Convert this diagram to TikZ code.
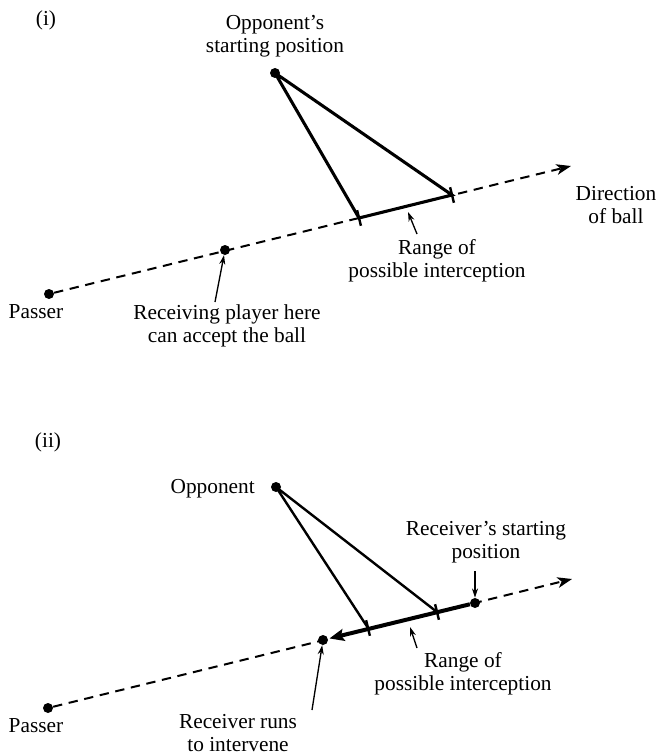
\documentclass[tikz,border=0pt]{standalone}
\usepackage{fontspec}
\setmainfont{Liberation Serif}
\usetikzlibrary{calc,arrows.meta}

\begin{document}
\begin{tikzpicture}[
    x=0.75pt, y=-0.75pt,               % one unit = one pixel of the reference
    font=\fontsize{16}{17.25}\selectfont,
    dot/.style={circle, fill, inner sep=0pt, minimum size=7.5pt},
    lbl/.style={align=center, inner sep=0pt},
    ball/.style={dash pattern=on 7pt off 5pt, line width=1.5pt,
        -{Stealth[length=11pt,width=8pt,inset=3pt]}},
    reach/.style={line width=2.3pt},   % opponent lines in (i)
    reachthin/.style={line width=1.8pt},
    pointer/.style={line width=1pt, -{Stealth[length=7pt,width=4.5pt]}},
    tick/.style={line width=1.8pt}
]
\useasboundingbox (0,0) rectangle (661,756);

% ---------- (i) ----------
\node[lbl] (numi) at (46,20) {(i)};
\node[dot] (passA) at (49,294) {};
\node[dot] (recvA) at (225,250) {};
\node[dot] (oppA) at (275,73) {};
\coordinate (endA) at (571,166);
\coordinate (tAa) at (359,218);
\coordinate (tAb) at (452,195);

\node[lbl] (passAlbl) at (36,312) {Passer};
\node[lbl] (oppAlbl) at (275,36) {Opponent’s\\starting position};
\node[lbl] (recvAlbl) at (227,326) {Receiving player here\\can accept the ball};
\node[lbl] (rangeAlbl) at (437,261) {Range of\\possible interception};
\node[lbl] (dirlbl) at (616,205) {Direction\\of ball};

\draw[ball] (passA) -- (endA);
\draw[reach] (oppA.center) -- (tAa) -- (tAb) -- (oppA.center);
\foreach \t in {tAa,tAb}
    \draw[tick] ($(\t)!6pt!90:(endA)$) -- ($(\t)!6pt!-90:(endA)$);

\coordinate (recvAtail) at (215,302);
\coordinate (rangeAtip) at (408,212);
\coordinate (rangeAtail) at (417,234);
\draw[pointer] (recvAtail) -- (recvA);
\draw[pointer] (rangeAtail) -- (rangeAtip);

% ---------- (ii) ----------
\node[lbl] (numii) at (48,442) {(ii)};
\node[dot] (passB) at (48,708) {};
\node[dot] (runB) at (323,640) {};
\node[dot] (startB) at (475,603) {};
\node[dot] (oppB) at (276,487) {};
\coordinate (endB) at (572,579);
\coordinate (tBa) at (368,628);
\coordinate (tBb) at (437,612);

\node[lbl] (passBlbl) at (36,726) {Passer};
\node[lbl, anchor=east] (oppBlbl) at (255,489) {Opponent};
\node[lbl] (startBlbl) at (486,542) {Receiver’s starting\\position};
\node[lbl] (rangeBlbl) at (463,674) {Range of\\possible interception};
\node[lbl] (runBlbl) at (238,733) {Receiver runs\\to intervene};

\draw[ball] (passB) -- (endB);
\draw[reachthin] (oppB.center) -- (tBa);
\draw[reachthin] (oppB.center) -- (tBb);
\draw[line width=3pt, -{Stealth[length=11pt,width=9pt,inset=2pt]},
    shorten >=1pt] (startB) -- (runB);
\foreach \t in {tBa,tBb}
    \draw[tick] ($(\t)!6pt!90:(endB)$) -- ($(\t)!6pt!-90:(endB)$);

\coordinate (startBtail) at (475,571);
\coordinate (rangeBtip) at (410,627);
\coordinate (rangeBtail) at (417,648);
\coordinate (runBtail) at (312,710);
\draw[pointer] (startBtail) -- (startB);
\draw[pointer] (rangeBtail) -- (rangeBtip);
\draw[pointer] (runBtail) -- (runB);
\end{tikzpicture}
\end{document}
